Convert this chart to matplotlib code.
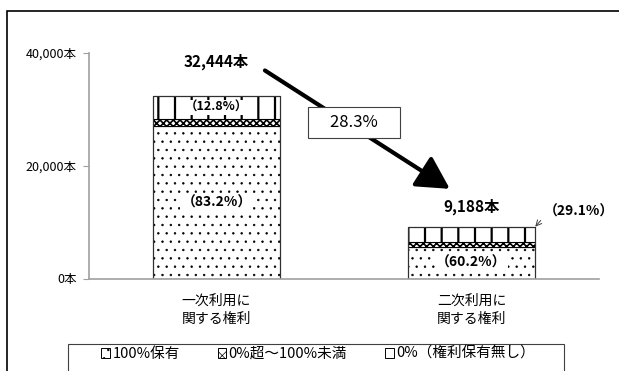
import matplotlib
matplotlib.use('Agg')
import matplotlib.pyplot as plt
from matplotlib.patches import Patch, Rectangle
from matplotlib.ticker import FuncFormatter
import numpy as np

plt.rcParams['font.family'] = ['Noto Sans CJK JP', 'DejaVu Sans']
plt.rcParams['hatch.linewidth'] = 1.2

# data
categories = ['一次利用に\n関する権利', '二次利用に\n関する権利']
totals = [32444, 9188]
share_full = [83.2, 60.2]      # 100%保有
share_part = [4.0, 10.7]       # 0%超～100%未満
share_none = [12.8, 29.1]      # 0%（権利保有無し）
total_labels = ['32,444本', '9,188本']
change_label = '28.3%'
legend_labels = ['100%保有', '0%超～100%未満', '0%（権利保有無し）']
yticks = [0, 20000, 40000]

W, H = 619, 371
fig = plt.figure(figsize=(W / 100, H / 100), dpi=100)
ax = fig.add_axes([89 / W, 1 - 278.5 / H, 510 / W, (278.5 - 53) / H])

x = np.arange(len(categories))
totals_arr = np.array(totals, dtype=float)
full = totals_arr * np.array(share_full) / 100
part = totals_arr * np.array(share_part) / 100
none = totals_arr * np.array(share_none) / 100

edge = '#303030'
with plt.rc_context({'hatch.linewidth': 0.5}):
    ax.bar(x, full, width=0.5, color='white', edgecolor='black', hatch='..', linewidth=0.8)
ax.bar(x, part, width=0.5, bottom=full, color='white', edgecolor='black', hatch='xxxxx', linewidth=0.8)
with plt.rc_context({'hatch.linewidth': 1.6}):
    ax.bar(x, none, width=0.5, bottom=full + part, color='white', edgecolor='black', hatch='|', linewidth=0.8)
# outline of whole bar
ax.bar(x, totals_arr, width=0.5, fill=False, edgecolor=edge, linewidth=0.8)

ax.set_xlim(-0.5, 1.5)
ax.set_ylim(0, 40000)
ax.set_yticks(yticks)
ax.yaxis.set_major_formatter(FuncFormatter(lambda v, p: f'{int(v):,}本'))
ax.set_xticks(x)
ax.set_xticklabels(categories, fontsize=10, linespacing=1.4)
ax.tick_params(axis='x', length=0, pad=11)
ax.tick_params(axis='y', length=4, color='#a0a0a0', labelsize=9, pad=5)
for s in ['top', 'right']:
    ax.spines[s].set_visible(False)
ax.spines['left'].set_color('#a0a0a0')
ax.spines['bottom'].set_color('#a0a0a0')
ax.spines['left'].set_linewidth(1.2)
ax.spines['bottom'].set_linewidth(1.2)

# percentage labels
box = dict(boxstyle='square,pad=0.1', facecolor='white', edgecolor='none')
for i in range(len(x)):
    ax.text(x[i], full[i] / 2, f'（{share_full[i]}%）', ha='center', va='center',
            fontsize=10, fontweight='bold', bbox=box)
ax.text(x[0], full[0] + part[0] + none[0] / 2, f'（{share_none[0]}%）', ha='center',
        va='center', fontsize=9, fontweight='bold', bbox=box)
ax.annotate(f'（{share_none[1]}%）', xy=(x[1] + 0.25, totals[1]), xytext=(1.42, 11900),
            ha='center', va='center', fontsize=10, fontweight='bold',
            arrowprops=dict(arrowstyle='->', lw=0.7, color='#404040',
                            shrinkA=0, shrinkB=0, relpos=(0.03, 0.25)))

# totals
offsets = [24, 14]
for i in range(len(x)):
    ax.annotate(total_labels[i], xy=(x[i], totals[i]), xytext=(0, offsets[i]),
                textcoords='offset points', ha='center', va='center',
                fontsize=11, fontweight='bold')

# big arrow and change box
ax.annotate('', xy=(0.915, 15900), xytext=(0.19, 36900),
            arrowprops=dict(arrowstyle='-|>,head_length=1.1,head_width=0.6',
                            lw=3, color='black', mutation_scale=18,
                            shrinkA=0, shrinkB=0))
ax.text(0.538, 27600, '    ' + change_label + '    ', ha='center', va='center', fontsize=12,
        bbox=dict(boxstyle='square,pad=0.42', facecolor='white', edgecolor='#404040', lw=0.8))

# outer frame
fig.add_artist(Rectangle((7 / W, -0.2), 1.2, 1.2 - 11 / H, transform=fig.transFigure,
                         fill=False, edgecolor='black', linewidth=1.2))

# legend
fig.add_artist(Rectangle((68 / W, -0.2), (564 - 68) / W, 0.2 + 1 - 344 / H,
                         transform=fig.transFigure, fill=False, edgecolor='#404040', linewidth=0.8))
with plt.rc_context({'hatch.linewidth': 0.5}):
    handles = [Patch(facecolor='white', edgecolor='black', hatch='..', linewidth=0.7),
               Patch(facecolor='white', edgecolor='black', hatch='xxx', linewidth=0.7),
               Patch(facecolor='white', edgecolor='black', linewidth=0.7)]
    fig.legend(handles, legend_labels, loc='center', bbox_to_anchor=(318 / W, 1 - 354 / H),
               ncol=3, frameon=False, fontsize=10.5, handlelength=0.6, handleheight=0.6,
               handletextpad=0.15, columnspacing=2.6, borderpad=0)

fig.savefig('out.png', dpi=100)
